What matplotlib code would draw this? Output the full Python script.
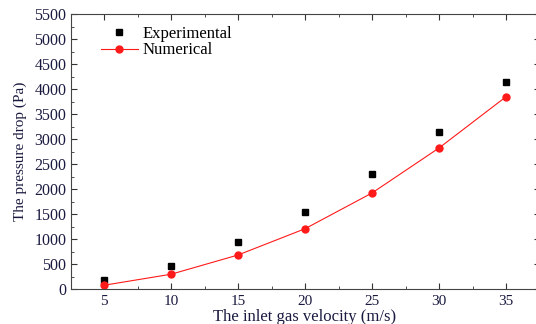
from matplotlib import pyplot as plt
from matplotlib.ticker import MultipleLocator

plt.rcParams['font.family'] = ['Liberation Serif', 'DejaVu Serif']

velocity = [5, 10, 15, 20, 25, 30, 35]
experimental = [185, 455, 945, 1535, 2300, 3150, 4140]
numerical = [75, 295, 680, 1205, 1920, 2820, 3845]

fig = plt.figure(figsize=(5.36, 3.24), dpi=100)
# right spine falls just past the image edge, as in the source figure
ax = fig.add_axes([70.5 / 536, 35 / 324, 469 / 536, 275 / 324])

ax.plot(velocity, experimental, 's', color='black', markersize=5,
        linestyle='none', label='Experimental')
ax.plot(velocity, numerical, '-o', color='#ff1a1a', markersize=5,
        linewidth=0.8, label='Numerical')

ax.set_xlim(2.5, 37.5)
ax.set_ylim(0, 5500)
ax.xaxis.set_major_locator(MultipleLocator(5))
ax.xaxis.set_minor_locator(MultipleLocator(2.5))
ax.yaxis.set_major_locator(MultipleLocator(500))
ax.yaxis.set_minor_locator(MultipleLocator(250))
ax.tick_params(which='both', direction='in', top=True, right=True,
               colors='#333333', labelcolor='#1a1a40')
ax.tick_params(axis='y', labelsize=11.5, pad=3)
ax.tick_params(axis='x', labelsize=11, pad=4)
ax.tick_params(which='major', length=4)
ax.tick_params(which='minor', length=2)
for s in ax.spines.values():
    s.set_color('#444444')

ax.set_xlabel('The inlet gas velocity (m/s)', fontsize=12, color='#1a1a40',
              labelpad=1)
ax.set_ylabel('The pressure drop (Pa)', fontsize=11, color='#1a1a40',
              labelpad=5)

ax.legend(loc='upper left', bbox_to_anchor=(0.04, 1.0), frameon=False,
          fontsize=12, handlelength=2.2, handletextpad=0.3,
          labelspacing=0.05, borderaxespad=0.3)

fig.savefig('out.png', dpi=100)
